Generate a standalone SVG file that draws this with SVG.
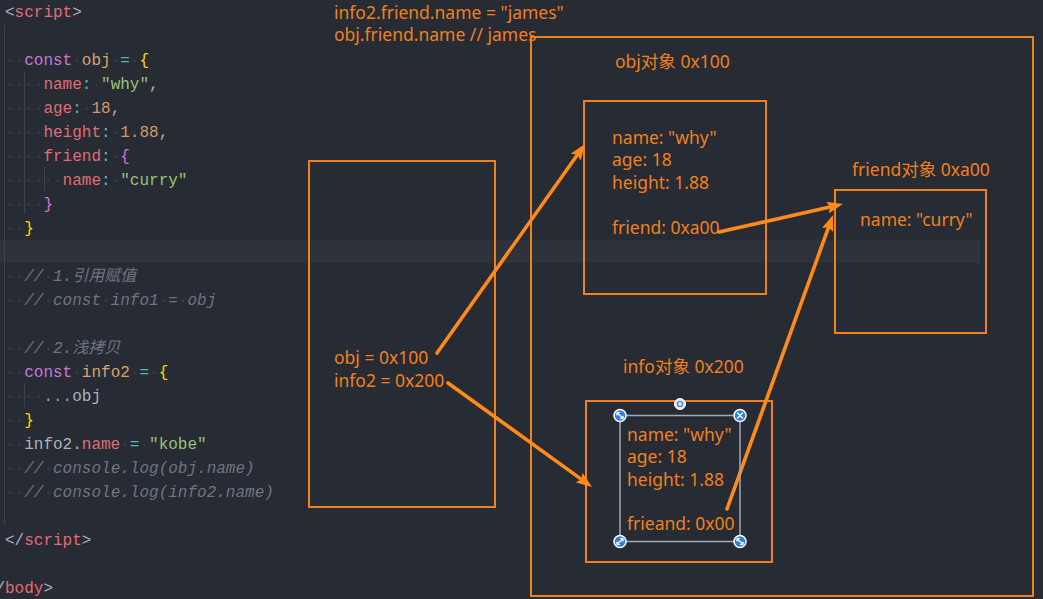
<svg xmlns="http://www.w3.org/2000/svg" width="1043" height="599" viewBox="0 0 1043 599">
<style>
.code{font-family:"Liberation Mono","DejaVu Sans Mono","Noto Sans CJK SC",monospace;font-size:16px}
.t{fill:#abb2bf}.r{fill:#e06c75}.k{fill:#c678dd}.v{fill:#dba36c}.o{fill:#56b6c2}.s{fill:#98c379}.n{fill:#d19a66}
.b1{fill:#ffd700}.b2{fill:#da70d6}.c{fill:#6e7582;font-style:italic}.d{fill:#3a3f49}
.guide{stroke:#3c414b;stroke-width:1}
.lbl{font-family:"Noto Sans","Noto Sans CJK SC",sans-serif;font-size:17.5px;fill:#f0801e}
.box{fill:none;stroke:#f0801e;stroke-width:2}
.arrow{stroke:#ff8a1c;stroke-width:3.6;stroke-linecap:round;fill:none;marker-end:url(#ah)}
.handle{fill:#2f7fe3;stroke:#ffffff;stroke-width:1.5}
.hicon{stroke:#ffffff;stroke-width:1.2;fill:none;stroke-linecap:round}
</style>
<defs>
<marker id="ah" markerUnits="userSpaceOnUse" viewBox="0 0 16 12" refX="6" refY="6" markerWidth="16" markerHeight="12" orient="auto">
<path d="M0,0 L16,6 L0,12 L3,6 z" fill="#ff8a1c"/>
</marker>
</defs>
<rect x="0" y="0" width="1043" height="599" fill="#272b33"/>
<rect x="0" y="240" width="980" height="23" fill="#2d323b"/>

<g id="code">
<line class="guide" x1="4.5" y1="25" x2="4.5" y2="525"/>
<line class="guide" x1="24.5" y1="72" x2="24.5" y2="214"/>
<line class="guide" x1="44.5" y1="167" x2="44.5" y2="191"/>
<line class="guide" x1="24.5" y1="383" x2="24.5" y2="407"/>
<text class="code" x="5" y="17"><tspan class="t">&lt;</tspan><tspan class="r">script</tspan><tspan class="t">&gt;</tspan></text>
<text class="code" x="5" y="65"><tspan class="d">··</tspan><tspan class="k">const</tspan><tspan class="d">·</tspan><tspan class="v">obj</tspan><tspan class="d">·</tspan><tspan class="o">=</tspan><tspan class="d">·</tspan><tspan class="b1">{</tspan></text>
<text class="code" x="5" y="89"><tspan class="d">····</tspan><tspan class="r">name</tspan><tspan class="o">:</tspan><tspan class="d">·</tspan><tspan class="s">"why"</tspan><tspan class="t">,</tspan></text>
<text class="code" x="5" y="113"><tspan class="d">····</tspan><tspan class="r">age</tspan><tspan class="o">:</tspan><tspan class="d">·</tspan><tspan class="n">18</tspan><tspan class="t">,</tspan></text>
<text class="code" x="5" y="137"><tspan class="d">····</tspan><tspan class="r">height</tspan><tspan class="o">:</tspan><tspan class="d">·</tspan><tspan class="n">1.88</tspan><tspan class="t">,</tspan></text>
<text class="code" x="5" y="161"><tspan class="d">····</tspan><tspan class="r">friend</tspan><tspan class="o">:</tspan><tspan class="d">·</tspan><tspan class="b2">{</tspan></text>
<text class="code" x="5" y="185"><tspan class="d">······</tspan><tspan class="r">name</tspan><tspan class="o">:</tspan><tspan class="d">·</tspan><tspan class="s">"curry"</tspan></text>
<text class="code" x="5" y="209"><tspan class="d">····</tspan><tspan class="b2">}</tspan></text>
<text class="code" x="5" y="233"><tspan class="d">··</tspan><tspan class="b1">}</tspan></text>
<text class="code" x="5" y="281"><tspan class="d">··</tspan><tspan class="c">//</tspan><tspan class="d">·</tspan><tspan class="c">1.引用赋值</tspan></text>
<text class="code" x="5" y="305"><tspan class="d">··</tspan><tspan class="c">//</tspan><tspan class="d">·</tspan><tspan class="c">const</tspan><tspan class="d">·</tspan><tspan class="c">info1</tspan><tspan class="d">·</tspan><tspan class="c">=</tspan><tspan class="d">·</tspan><tspan class="c">obj</tspan></text>
<text class="code" x="5" y="353"><tspan class="d">··</tspan><tspan class="c">//</tspan><tspan class="d">·</tspan><tspan class="c">2.浅拷贝</tspan></text>
<text class="code" x="5" y="377"><tspan class="d">··</tspan><tspan class="k">const</tspan><tspan class="d">·</tspan><tspan class="v">info2</tspan><tspan class="d">·</tspan><tspan class="o">=</tspan><tspan class="d">·</tspan><tspan class="b1">{</tspan></text>
<text class="code" x="5" y="401"><tspan class="d">····</tspan><tspan class="o">...</tspan><tspan class="t">obj</tspan></text>
<text class="code" x="5" y="425"><tspan class="d">··</tspan><tspan class="b1">}</tspan></text>
<text class="code" x="5" y="449"><tspan class="d">··</tspan><tspan class="t">info2.</tspan><tspan class="r">name</tspan><tspan class="d">·</tspan><tspan class="o">=</tspan><tspan class="d">·</tspan><tspan class="s">"kobe"</tspan></text>
<text class="code" x="5" y="473"><tspan class="d">··</tspan><tspan class="c">//</tspan><tspan class="d">·</tspan><tspan class="c">console.log(obj.name)</tspan></text>
<text class="code" x="5" y="497"><tspan class="d">··</tspan><tspan class="c">//</tspan><tspan class="d">·</tspan><tspan class="c">console.log(info2.name)</tspan></text>
<text class="code" x="5" y="545"><tspan class="t">&lt;/</tspan><tspan class="r">script</tspan><tspan class="t">&gt;</tspan></text>
<text class="code" x="-14.2" y="593"><tspan class="t">&lt;/</tspan><tspan class="r">body</tspan><tspan class="t">&gt;</tspan></text>
</g>

<g id="note">
<text class="lbl" x="334" y="19">info2.friend.name = "james"</text>
<text class="lbl" x="334" y="41">obj.friend.name // james</text>
</g>

<g id="heap">
<rect class="box" x="531" y="37" width="502" height="559"/>
</g>

<g id="vars">
<rect class="box" x="309" y="161" width="186" height="346"/>
<text class="lbl" x="334" y="364">obj = 0x100</text>
<text class="lbl" x="334" y="387">info2 = 0x200</text>
</g>

<g id="obj-object">
<text class="lbl" x="615" y="68">obj对象 0x100</text>
<rect class="box" x="584" y="101" width="182" height="193"/>
<text class="lbl" x="612" y="144">name: "why"</text>
<text class="lbl" x="612" y="166">age: 18</text>
<text class="lbl" x="612" y="189">height: 1.88</text>
<text class="lbl" x="612" y="234">friend: 0xa00</text>
</g>

<g id="friend-object">
<text class="lbl" x="852" y="176">friend对象 0xa00</text>
<rect class="box" x="835" y="190" width="151" height="143"/>
<text class="lbl" x="860" y="226">name: "curry"</text>
</g>

<g id="info-object">
<text class="lbl" x="623" y="373">info对象 0x200</text>
<rect class="box" x="586" y="401" width="186" height="161"/>
<text class="lbl" x="627" y="441">name: "why"</text>
<text class="lbl" x="627" y="463">age: 18</text>
<text class="lbl" x="627" y="486">height: 1.88</text>
<text class="lbl" x="627" y="530">frieand: 0x00</text>
</g>

<g id="connectors">
<line class="arrow" x1="437" y1="353" x2="579.2" y2="152.2"/>
<line class="arrow" x1="448" y1="383" x2="583.9" y2="481.1"/>
<line class="arrow" x1="719" y1="232" x2="833.2" y2="206.2"/>
<line class="arrow" x1="727" y1="509" x2="829.6" y2="224.4"/>
</g>

<g id="selection">
<rect x="620" y="415.5" width="120" height="126" fill="none" stroke="#a3abb6" stroke-width="1.5"/>
<circle cx="680" cy="404" r="5.5" fill="#dfe6ee" stroke="#ffffff" stroke-width="1"/>
<circle cx="680" cy="404" r="2.5" fill="none" stroke="#2f7fe3" stroke-width="1.2"/>
<circle class="handle" cx="620" cy="415.5" r="6"/>
<path class="hicon" d="M617,412.5 L623,418.5 M617,412.5 L617,415 M617,412.5 L619.5,412.5 M623,418.5 L623,416 M623,418.5 L620.5,418.5"/>
<circle class="handle" cx="740" cy="415.5" r="6"/>
<path class="hicon" d="M737.5,413 L742.5,418 M742.5,413 L737.5,418"/>
<circle class="handle" cx="620" cy="541.5" r="6"/>
<path class="hicon" d="M617,544.5 L623,538.5 M617,544.5 L617,542 M617,544.5 L619.5,544.5 M623,538.5 L623,541 M623,538.5 L620.5,538.5"/>
<circle class="handle" cx="740" cy="541.5" r="6"/>
<path class="hicon" d="M737,538.5 L743,544.5 M737,538.5 L737,541 M737,538.5 L739.5,538.5 M743,544.5 L743,542 M743,544.5 L740.5,544.5"/>
</g>
</svg>
